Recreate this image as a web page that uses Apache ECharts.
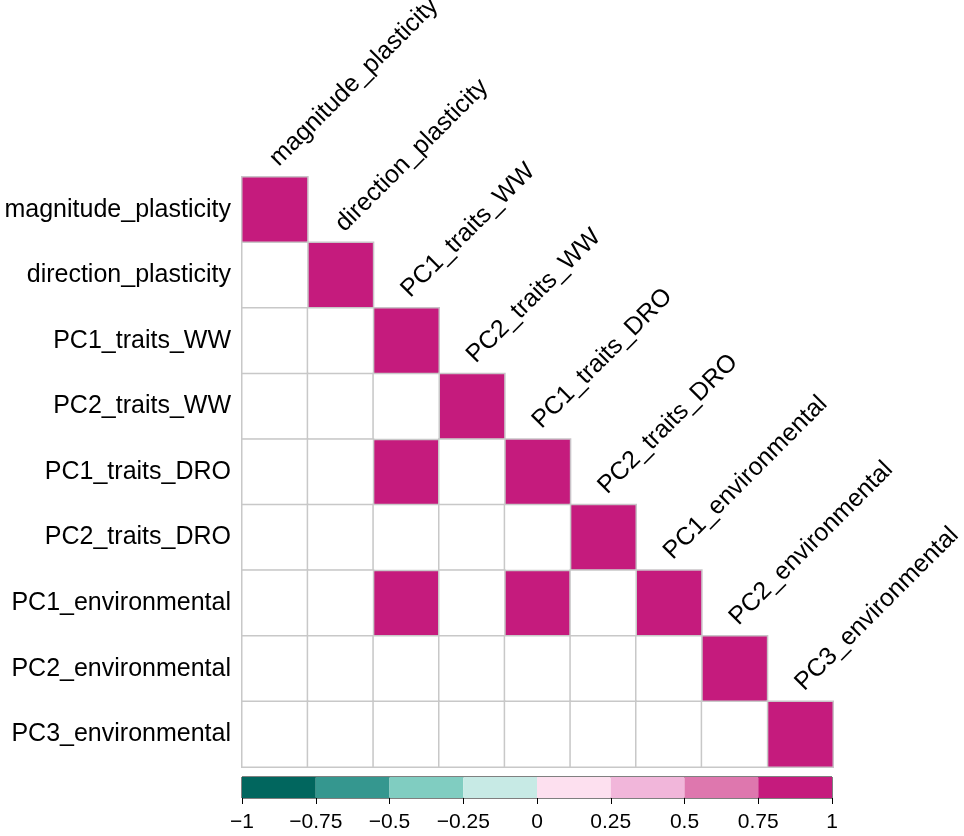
<!DOCTYPE html>
<html>
<head>
<meta charset="utf-8">
<script src="https://cdn.jsdelivr.net/npm/echarts@6/dist/echarts.min.js"></script>
<style>
  html, body { margin: 0; padding: 0; background: #fff; }
  #chart { width: 964px; height: 836px; }
</style>
</head>
<body>
<div id="chart"></div>
<script>
// Variables of the correlation matrix
const variables = [
  'magnitude_plasticity', 'direction_plasticity', 'PC1_traits_WW', 'PC2_traits_WW',
  'PC1_traits_DRO', 'PC2_traits_DRO', 'PC1_environmental', 'PC2_environmental', 'PC3_environmental'
];

// Lower triangle, row by row; null = not significant (left blank)
const corrRow0 = [1];
const corrRow1 = [null, 1];
const corrRow2 = [null, null, 1];
const corrRow3 = [null, null, null, 1];
const corrRow4 = [null, null, 0.9, null, 1];
const corrRow5 = [null, null, null, null, null, 1];
const corrRow6 = [null, null, 0.85, null, 0.88, null, 1];
const corrRow7 = [null, null, null, null, null, null, null, 1];
const corrRow8 = [null, null, null, null, null, null, null, null, 1];
const corrRows = [corrRow0, corrRow1, corrRow2, corrRow3, corrRow4, corrRow5, corrRow6, corrRow7, corrRow8];

// Colour scale bins
const binEdges = [-1, -0.75, -0.5, -0.25, 0, 0.25, 0.5, 0.75, 1];
const binColors = ['#01665e', '#35978f', '#80cdc1', '#c7eae5', '#fde0ef', '#f1b6da', '#de77ae', '#c51b7d'];

const FONT = 'Liberation Sans, Arial, Helvetica, sans-serif';

const sigCells = [];
const blankCells = [];
corrRows.forEach((row, r) => {
  row.forEach((v, c) => {
    if (v === null) blankCells.push([c, r, 0]);
    else sigCells.push([c, r, v]);
  });
});

const bins = binColors.map((col, i) => [binEdges[i], binEdges[i + 1], i]);
const pieces = binColors.map((col, i) => ({ gte: binEdges[i], lte: binEdges[i + 1], color: col }));

const chart = echarts.init(document.getElementById('chart'), null, { renderer: 'canvas' });

chart.setOption({
  backgroundColor: '#fff',
  animation: false,
  grid: [
    { left: 242, top: 177, width: 591, height: 590 },
    { left: 242, top: 777, width: 590, height: 21, show: true, borderColor: '#000', borderWidth: 1, backgroundColor: 'transparent' }
  ],
  xAxis: [
    { type: 'category', data: variables, gridIndex: 0, show: false },
    {
      type: 'value', gridIndex: 1, min: -1, max: 1, interval: 0.25,
      axisLine: { show: false },
      axisTick: { show: true, length: 6, lineStyle: { color: '#000', width: 1 } },
      splitLine: { show: false },
      axisLabel: {
        fontSize: 21, color: '#000', fontFamily: FONT, margin: 14,
        formatter: v => String(v).replace('-', '\u2212')
      }
    }
  ],
  yAxis: [
    {
      type: 'category', data: variables, gridIndex: 0, inverse: true,
      axisLine: { show: false }, axisTick: { show: false }, splitLine: { show: false },
      axisLabel: { fontSize: 25, color: '#000', fontFamily: FONT, margin: 11 }
    },
    { type: 'value', gridIndex: 1, min: 0, max: 1, show: false }
  ],
  visualMap: {
    type: 'piecewise', show: false, seriesIndex: 0, dimension: 2, pieces: pieces
  },
  series: [
    {
      type: 'heatmap', xAxisIndex: 0, yAxisIndex: 0, data: sigCells,
      itemStyle: { borderColor: '#c9c3c8', borderWidth: 1.5 },
      emphasis: { disabled: true }
    },
    {
      type: 'heatmap', xAxisIndex: 0, yAxisIndex: 0, data: blankCells,
      itemStyle: { color: '#ffffff', borderColor: '#c8c8c8', borderWidth: 1.5 },
      emphasis: { disabled: true }
    },
    {
      // diagonal column labels
      type: 'custom', xAxisIndex: 0, yAxisIndex: 0,
      data: variables.map((name, i) => [i, i]),
      renderItem: (params, api) => {
        const i = api.value(0);
        const p = api.coord([i, i]);
        const s = api.size([1, 1]);
        return {
          type: 'text',
          x: p[0] + 8,
          y: p[1] - s[1] / 2 - 6,
          rotation: Math.PI / 4,
          style: {
            text: variables[i], fontSize: 25, fontFamily: FONT, fill: '#000',
            align: 'left', verticalAlign: 'bottom'
          }
        };
      }
    },
    {
      // colour bar
      type: 'custom', xAxisIndex: 1, yAxisIndex: 1, data: bins,
      renderItem: (params, api) => {
        const a = api.coord([api.value(0), 0]);
        const b = api.coord([api.value(1), 1]);
        return {
          type: 'rect',
          shape: { x: a[0], y: b[1], width: b[0] - a[0], height: a[1] - b[1] },
          style: { fill: binColors[api.value(2)] }
        };
      }
    }
  ]
});
</script>
</body>
</html>
